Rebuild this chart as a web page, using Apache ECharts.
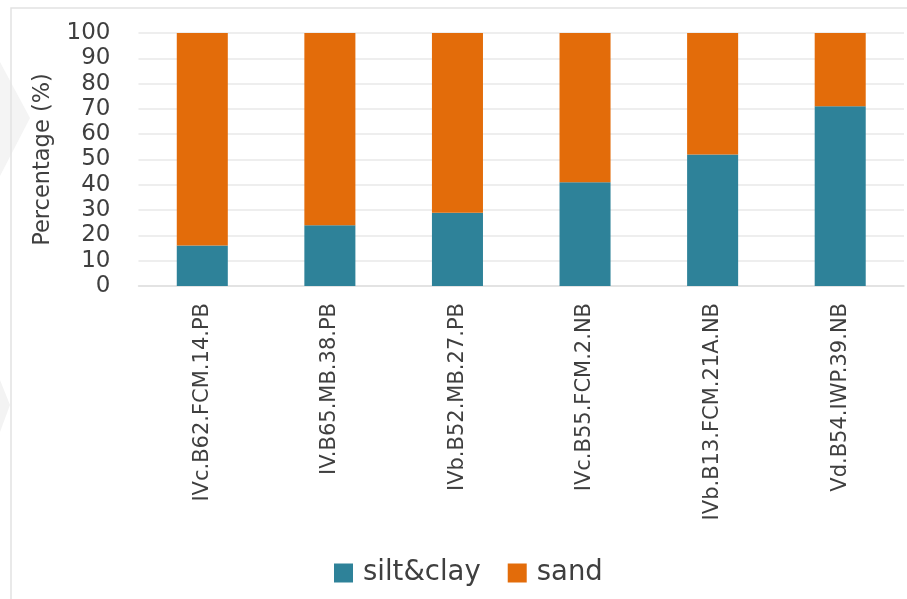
<!DOCTYPE html>
<html>
<head>
<meta charset="utf-8">
<script src="https://cdn.jsdelivr.net/npm/echarts@6/dist/echarts.min.js"></script>
<style>
  html, body { margin: 0; padding: 0; background: #fff; }
  #chart { width: 907px; height: 599px; }
</style>
</head>
<body>
<div id="chart"></div>
<script>
// Grain-size composition per sample
const categories = [
  'IVc.B62.FCM.14.PB',
  'IV.B65.MB.38.PB',
  'IVb.B52.MB.27.PB',
  'IVc.B55.FCM.2.NB',
  'IVb.B13.FCM.21A.NB',
  'Vd.B54.IWP.39.NB'
];
const siltClay = [16, 24, 29, 41, 52, 71];
const sand = [84, 76, 71, 59, 48, 29];
const yTicks = [0, 10, 20, 30, 40, 50, 60, 70, 80, 90, 100];

const FONT = '"DejaVu Sans", Verdana, sans-serif';
const TEXT = '#3f3f3f';

const chart = echarts.init(document.getElementById('chart'));
chart.setOption({
  animation: false,
  backgroundColor: '#fff',
  graphic: [
    {
      type: 'polygon',
      silent: true,
      shape: { points: [[0, 62], [30, 118], [0, 176]] },
      style: { fill: '#f4f4f4' }
    },
    {
      type: 'polygon',
      silent: true,
      shape: { points: [[0, 380], [10, 405], [0, 432]] },
      style: { fill: '#f3f3f3' }
    },
    {
      type: 'polyline',
      silent: true,
      shape: { points: [[11, 599], [11, 8], [907, 8]] },
      style: { stroke: '#e2e2e2', lineWidth: 1.5, fill: null }
    }
  ],
  grid: { left: 138.5, right: 3, top: 33, bottom: 313, containLabel: false },
  legend: {
    bottom: 7,
    left: 329,
    itemWidth: 19,
    itemHeight: 19,
    itemGap: 27,
    icon: 'rect',
    textStyle: { fontFamily: FONT, fontSize: 27.5, color: TEXT, padding: [0, 0, 0, 5] },
    data: ['silt&clay', 'sand']
  },
  xAxis: {
    type: 'category',
    data: categories,
    axisLine: { lineStyle: { color: '#e0e0e0', width: 1.5 } },
    axisTick: { show: false },
    axisLabel: {
      rotate: 90,
      margin: 17,
      interval: 0,
      fontFamily: FONT,
      fontSize: 21,
      color: TEXT
    }
  },
  yAxis: {
    type: 'value',
    min: yTicks[0],
    max: yTicks[yTicks.length - 1],
    interval: 10,
    name: 'Percentage (%)',
    nameLocation: 'middle',
    nameRotate: 90,
    nameGap: 84,
    nameTextStyle: { fontFamily: FONT, fontSize: 22.5, color: TEXT },
    axisLine: { show: false },
    axisTick: { show: false },
    splitLine: { lineStyle: { color: '#e8e8e8', width: 1.5 } },
    axisLabel: { fontFamily: FONT, fontSize: 23, color: TEXT, margin: 28 }
  },
  series: [
    {
      name: 'silt&clay',
      type: 'bar',
      stack: 'total',
      barWidth: '40%',
      itemStyle: { color: '#2E8299' },
      data: siltClay
    },
    {
      name: 'sand',
      type: 'bar',
      stack: 'total',
      barWidth: '40%',
      itemStyle: { color: '#E36C0A' },
      data: sand
    }
  ]
});
</script>
</body>
</html>
